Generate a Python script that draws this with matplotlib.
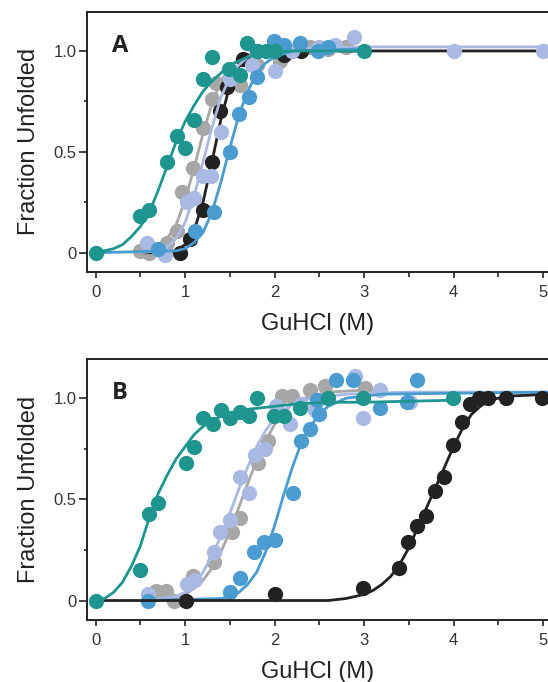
import matplotlib
matplotlib.use("Agg")
import matplotlib.pyplot as plt
from matplotlib.ticker import MultipleLocator, FixedLocator

plt.rcParams['font.family'] = ['Liberation Sans', 'DejaVu Sans']

# colours of the five variants
c_gray = '#a7a7a7'
c_black = '#222222'
c_lblue = '#a9b9e3'
c_mblue = '#4a9bd0'
c_teal = '#1e968f'

# ---------------- panel A: measured points ----------------
a_gray_x = [0.5, 0.6, 0.7, 0.8, 0.91, 0.97, 1.09, 1.2, 1.3, 1.35, 1.61, 1.8, 2.06, 2.2, 2.4, 2.6, 2.8]
a_gray_y = [0.01, 0.0, 0.02, 0.05, 0.11, 0.30, 0.42, 0.62, 0.76, 0.84, 0.83, 0.93, 0.95, 1.0, 1.02, 1.01, 1.02]
a_black_x = [0.94, 1.06, 1.2, 1.3, 1.39, 1.47, 1.65, 1.8, 2.1, 2.3]
a_black_y = [0.0, 0.07, 0.21, 0.45, 0.70, 0.82, 0.96, 1.0, 0.98, 1.0]
a_lblue_x = [0.57, 0.78, 1.02, 1.1, 1.2, 1.29, 1.4, 1.5, 1.75, 2.0, 2.2, 2.5, 2.68, 2.89, 4.0, 5.0]
a_lblue_y = [0.05, -0.01, 0.25, 0.27, 0.38, 0.38, 0.60, 0.86, 0.93, 0.90, 1.0, 1.02, 1.03, 1.07, 1.0, 1.0]
a_mblue_x = [0.70, 1.11, 1.32, 1.5, 1.6, 1.71, 1.8, 1.99, 2.1, 2.28, 2.49, 2.6]
a_mblue_y = [0.02, 0.11, 0.20, 0.50, 0.69, 0.77, 0.87, 1.05, 1.03, 1.04, 1.0, 1.02]
a_teal_x = [0, 0.5, 0.6, 0.8, 0.91, 1.0, 1.1, 1.2, 1.3, 1.49, 1.61, 1.69, 1.8, 1.9, 2.0, 3.0]
a_teal_y = [0, 0.18, 0.21, 0.45, 0.58, 0.52, 0.66, 0.86, 0.97, 0.91, 0.88, 1.04, 1.0, 1.0, 1.0, 1.0]

# panel A: fitted curves
a_gray_fx = [0.5, 0.6, 0.7, 0.8, 0.9, 1.0, 1.1, 1.2, 1.3, 1.4, 1.5, 1.6, 1.7, 1.9, 3.0]
a_gray_fy = [0.0, 0.01, 0.03, 0.07, 0.14, 0.26, 0.42, 0.59, 0.74, 0.85, 0.92, 0.96, 0.98, 1.0, 1.0]
a_black_fx = [0.5, 0.8, 0.9, 1.0, 1.1, 1.2, 1.3, 1.4, 1.5, 1.6, 1.7, 1.8, 2.0, 5.1]
a_black_fy = [0.0, 0.0, 0.01, 0.04, 0.11, 0.25, 0.45, 0.66, 0.83, 0.92, 0.97, 0.99, 1.0, 1.0]
a_lblue_fx = [0.5, 0.7, 0.8, 0.9, 1.0, 1.1, 1.2, 1.3, 1.4, 1.5, 1.6, 1.7, 1.8, 2.0, 3.0, 5.1]
a_lblue_fy = [0.0, 0.01, 0.03, 0.07, 0.15, 0.28, 0.45, 0.62, 0.77, 0.87, 0.93, 0.97, 0.99, 1.01, 1.02, 1.02]
a_mblue_fx = [0, 0.9, 1.0, 1.1, 1.2, 1.3, 1.4, 1.5, 1.6, 1.7, 1.8, 1.9, 2.0, 2.2, 3.0]
a_mblue_fy = [0, 0.01, 0.02, 0.05, 0.10, 0.20, 0.35, 0.52, 0.68, 0.80, 0.89, 0.94, 0.97, 1.0, 1.01]
a_teal_fx = [0, 0.1, 0.2, 0.3, 0.4, 0.5, 0.6, 0.7, 0.8, 0.9, 1.0, 1.1, 1.2, 1.3, 1.4, 1.5, 1.6, 1.7, 1.9, 2.2, 3.0]
a_teal_fy = [0, 0.01, 0.02, 0.04, 0.08, 0.13, 0.20, 0.31, 0.43, 0.55, 0.65, 0.73, 0.80, 0.85, 0.89, 0.93, 0.95, 0.97, 0.99, 1.0, 1.0]

# ---------------- panel B: measured points ----------------
b_gray_x = [0.68, 0.79, 0.88, 1.09, 1.32, 1.52, 1.61, 1.82, 1.93, 2.08, 2.2, 2.4, 2.56, 3.01]
b_gray_y = [0.045, 0.045, 0.0, 0.12, 0.19, 0.34, 0.41, 0.68, 0.79, 1.01, 1.01, 1.04, 1.06, 1.05]
b_black_x = [1.01, 2.0, 2.99, 3.39, 3.49, 3.59, 3.69, 3.79, 3.89, 3.99, 4.09, 4.18, 4.28, 4.39, 4.59, 4.99]
b_black_y = [0.0, 0.03, 0.06, 0.16, 0.29, 0.37, 0.42, 0.54, 0.61, 0.77, 0.88, 0.97, 1.0, 1.0, 1.0, 1.0]
b_lblue_x = [0.59, 1.02, 1.11, 1.32, 1.39, 1.5, 1.61, 1.71, 1.78, 1.89, 2.02, 2.17, 2.3, 2.45, 2.9, 2.99, 3.18, 3.51]
b_lblue_y = [0.03, 0.08, 0.10, 0.24, 0.34, 0.40, 0.61, 0.53, 0.72, 0.75, 0.96, 0.87, 0.97, 0.94, 1.11, 0.90, 1.04, 0.98]
b_mblue_x = [0.59, 1.5, 1.61, 1.77, 1.88, 2.0, 2.21, 2.29, 2.4, 2.47, 2.5, 2.69, 2.88, 3.18, 3.48, 3.59]
b_mblue_y = [0.0, 0.04, 0.11, 0.24, 0.29, 0.30, 0.53, 0.79, 0.85, 0.99, 0.92, 1.09, 1.09, 0.95, 0.98, 1.09]
b_teal_x = [0, 0.5, 0.6, 0.7, 1.01, 1.1, 1.2, 1.31, 1.4, 1.5, 1.61, 1.71, 1.8, 1.99, 2.11, 2.28, 2.6, 2.99, 3.99]
b_teal_y = [0, 0.15, 0.43, 0.48, 0.68, 0.76, 0.90, 0.87, 0.94, 0.90, 0.93, 0.91, 1.0, 0.91, 0.91, 0.95, 1.0, 1.0, 1.0]

# panel B: fitted curves
b_gray_fx = [0.6, 0.9, 1.0, 1.1, 1.2, 1.3, 1.4, 1.5, 1.6, 1.7, 1.8, 1.9, 2.0, 2.1, 2.2, 2.4, 2.6, 3.0]
b_gray_fy = [0.0, 0.01, 0.03, 0.06, 0.10, 0.16, 0.24, 0.34, 0.46, 0.58, 0.69, 0.79, 0.87, 0.93, 0.97, 1.01, 1.03, 1.04]
b_black_fx = [0, 2.6, 2.8, 3.0, 3.1, 3.2, 3.3, 3.4, 3.5, 3.6, 3.7, 3.8, 3.9, 4.0, 4.1, 4.2, 4.3, 4.4, 4.6, 5.1]
b_black_fy = [0, 0.0, 0.01, 0.03, 0.05, 0.08, 0.12, 0.18, 0.26, 0.36, 0.46, 0.56, 0.66, 0.76, 0.85, 0.92, 0.96, 0.99, 1.01, 1.02]
b_lblue_fx = [0.6, 0.9, 1.0, 1.1, 1.2, 1.3, 1.4, 1.5, 1.6, 1.7, 1.8, 1.9, 2.0, 2.1, 2.2, 2.4, 2.8, 3.5, 5.1]
b_lblue_fy = [0.0, 0.02, 0.04, 0.08, 0.14, 0.22, 0.32, 0.43, 0.55, 0.66, 0.76, 0.84, 0.90, 0.94, 0.97, 1.0, 1.02, 1.03, 1.03]
b_mblue_fx = [0.6, 1.4, 1.5, 1.6, 1.7, 1.8, 1.9, 2.0, 2.1, 2.2, 2.3, 2.4, 2.5, 2.6, 2.8, 3.2, 5.1]
b_mblue_fy = [0.0, 0.01, 0.02, 0.04, 0.08, 0.14, 0.24, 0.37, 0.52, 0.66, 0.78, 0.86, 0.92, 0.96, 1.0, 1.02, 1.03]
b_teal_fx = [0, 0.1, 0.2, 0.3, 0.4, 0.5, 0.6, 0.7, 0.8, 0.9, 1.0, 1.1, 1.2, 1.3, 1.4, 1.6, 1.8, 2.2, 2.6, 3.0, 4.0]
b_teal_fy = [0, 0.01, 0.04, 0.09, 0.17, 0.27, 0.41, 0.53, 0.62, 0.70, 0.76, 0.82, 0.86, 0.89, 0.91, 0.94, 0.95, 0.97, 0.98, 0.98, 0.99]

x_ticks = [0, 1, 2, 3, 4, 5]
y_ticks = [0, 0.5, 1.0]
y_ticklabels = ['0', '0.5', '1.0']

fig = plt.figure(figsize=(5.48, 6.82), dpi=100)
axA = fig.add_axes([0.159, 0.601, 0.841, 0.382])
axB = fig.add_axes([0.159, 0.091, 0.841, 0.383])

panels = [
    (axA, 'A',
     [(a_gray_x, a_gray_y, a_gray_fx, a_gray_fy, c_gray),
      (a_black_x, a_black_y, a_black_fx, a_black_fy, c_black),
      (a_lblue_x, a_lblue_y, a_lblue_fx, a_lblue_fy, c_lblue),
      (a_mblue_x, a_mblue_y, a_mblue_fx, a_mblue_fy, c_mblue),
      (a_teal_x, a_teal_y, a_teal_fx, a_teal_fy, c_teal)]),
    (axB, 'B',
     [(b_gray_x, b_gray_y, b_gray_fx, b_gray_fy, c_gray),
      (b_lblue_x, b_lblue_y, b_lblue_fx, b_lblue_fy, c_lblue),
      (b_mblue_x, b_mblue_y, b_mblue_fx, b_mblue_fy, c_mblue),
      (b_black_x, b_black_y, b_black_fx, b_black_fy, c_black),
      (b_teal_x, b_teal_y, b_teal_fx, b_teal_fy, c_teal)]),
]

for ax, letter, series in panels:
    for px, py, fx, fy, col in series:
        ax.plot(fx, fy, color=col, lw=2.0, solid_capstyle='round', clip_on=False)
        ax.plot(px, py, 'o', color=col, ms=11, mew=0, clip_on=False)

    ax.set_xlim(-0.095, 5.056)
    ax.set_ylim(-0.096, 1.195)
    ax.spines['right'].set_visible(False)
    for s in ['left', 'top', 'bottom']:
        ax.spines[s].set_linewidth(1.4)
        ax.spines[s].set_color('#222222')

    ax.set_xticks(x_ticks)
    ax.set_xticklabels([str(t) for t in x_ticks])
    ax.xaxis.set_minor_locator(MultipleLocator(0.5))
    ax.set_yticks(y_ticks)
    ax.set_yticklabels(y_ticklabels)
    ax.yaxis.set_minor_locator(FixedLocator([0.25, 0.75]))
    ax.tick_params(axis='both', which='both', direction='out', width=1.2,
                   color='#222222', labelsize=12, labelcolor='#333333')
    ax.tick_params(axis='x', which='major', length=4.5, pad=5)
    ax.tick_params(axis='x', which='minor', length=3.5)
    ax.tick_params(axis='y', which='major', length=5.5, pad=2)
    ax.tick_params(axis='y', which='minor', length=2.5)

    ax.set_xlabel('GuHCl (M)', fontsize=17, labelpad=9, color='#222222')
    ax.set_ylabel('Fraction Unfolded', fontsize=17, labelpad=10, color='#222222')

    ax.text(0.053, 0.846, letter, transform=ax.transAxes, ha='left', va='baseline',
            fontsize=17, fontweight='bold', family=['Open Sans', 'DejaVu Sans'],
            color='#222222')

fig.savefig('out.png', dpi=100)
